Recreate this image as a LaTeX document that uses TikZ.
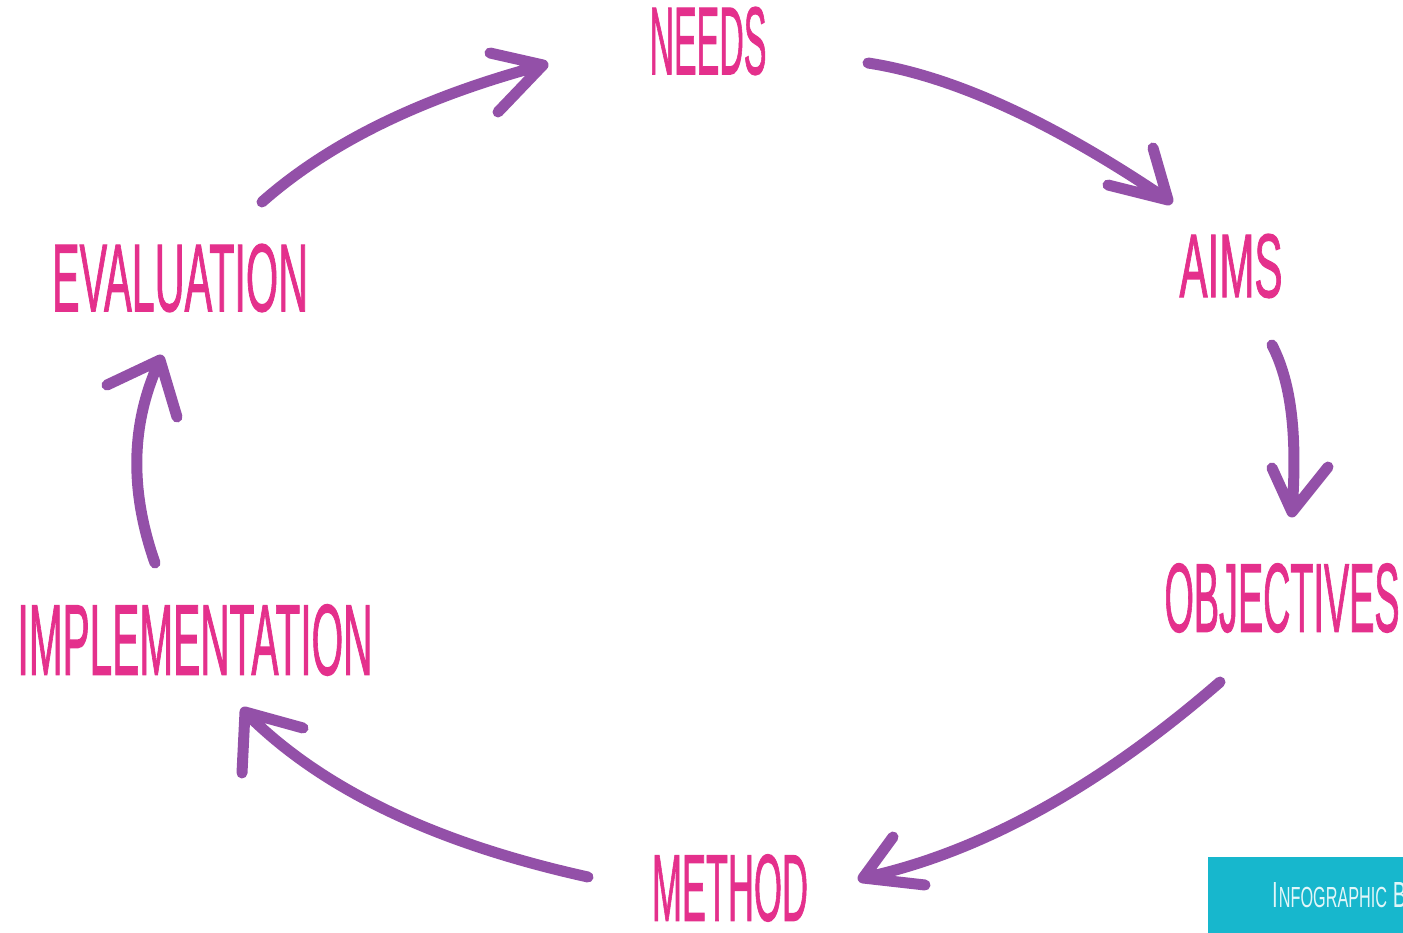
\documentclass[tikz,border=0pt]{standalone}
\usepackage{fontspec}
\setmainfont{Liberation Sans}
\newfontfamily\lblfont[FakeBold=1.5]{Liberation Sans}
\usepackage{graphicx}
\definecolor{lblpink}{RGB}{228,48,140}
\definecolor{arrpurple}{RGB}{147,80,168}
\definecolor{boxteal}{RGB}{23,183,205}
\definecolor{boxtext}{RGB}{225,246,249}
\tikzset{
  lbl/.style={inner sep=0pt, text=lblpink, font=\lblfont},
  flow/.style={draw=arrpurple, line width=11pt, line cap=round, line join=round}
}
\begin{document}
\begin{tikzpicture}[x=1pt,y=-1pt]
\useasboundingbox[fill=white] (0,0) rectangle (1403,933);
% labels
\node[lbl] (needs) at (708,41) {\resizebox{117pt}{67pt}{NEEDS}};
\node[lbl] (aims) at (1231,266) {\resizebox{103pt}{63pt}{AIMS}};
\node[lbl] (obj) at (1282,598) {\resizebox{235pt}{68pt}{OBJECTIVES}};
\node[lbl] (method) at (730,888) {\resizebox{156pt}{66pt}{METHOD}};
\node[lbl] (impl) at (195,640) {\resizebox{355pt}{70pt}{IMPLEMENTATION}};
\node[lbl] (eval) at (180,278) {\resizebox{256pt}{67pt}{EVALUATION}};
% arrow end points
\coordinate (s1) at (868,63);   \coordinate (t1) at (1168,200);
\coordinate (b1a) at (1153,148); \coordinate (b1b) at (1108,185);
\coordinate (s2) at (1272,345); \coordinate (t2) at (1292,512);
\coordinate (b2a) at (1272,468); \coordinate (b2b) at (1328,467);
\coordinate (s3) at (1220,682); \coordinate (t3) at (863,878);
\coordinate (b3a) at (893,837); \coordinate (b3b) at (925,885);
\coordinate (s4) at (588,877);  \coordinate (t4) at (245,712);
\coordinate (b4a) at (242,773); \coordinate (b4b) at (303,728);
\coordinate (s5) at (155,563);  \coordinate (t5) at (160,360);
\coordinate (b5a) at (107,385); \coordinate (b5b) at (177,417);
\coordinate (s6) at (262,202);  \coordinate (t6) at (543,65);
\coordinate (b6a) at (490,53);  \coordinate (b6b) at (498,112);
% arrows
\draw[flow] (s1) .. controls (953,76) and (1053,122) .. (t1) (b1a) -- (t1) -- (b1b);
\draw[flow] (s2) .. controls (1290,380) and (1298,430) .. (t2) (b2a) -- (t2) -- (b2b);
\draw[flow] (s3) .. controls (1099,787) and (980,853) .. (t3) (b3a) -- (t3) -- (b3b);
\draw[flow] (s4) .. controls (434,843) and (320,788) .. (t4) (b4a) -- (t4) -- (b4b);
\draw[flow] (s5) .. controls (129,489) and (131,422) .. (t5) (b5a) -- (t5) -- (b5b);
\draw[flow] (s6) .. controls (330,142) and (423,97) .. (t6) (b6a) -- (t6) -- (b6b);
% credit box
\begin{scope}
\clip (0,0) rectangle (1403,933);
\fill[boxteal] (1208,857) rectangle (1420,945);
\node[anchor=south west, inner sep=0pt, text=boxtext] (credit) at (1272,908)
  {\resizebox{145pt}{25pt}{I\kern0.5pt{\footnotesize NFOGRAPHIC} B{\footnotesize Y}}};
\end{scope}
\end{tikzpicture}
\end{document}
